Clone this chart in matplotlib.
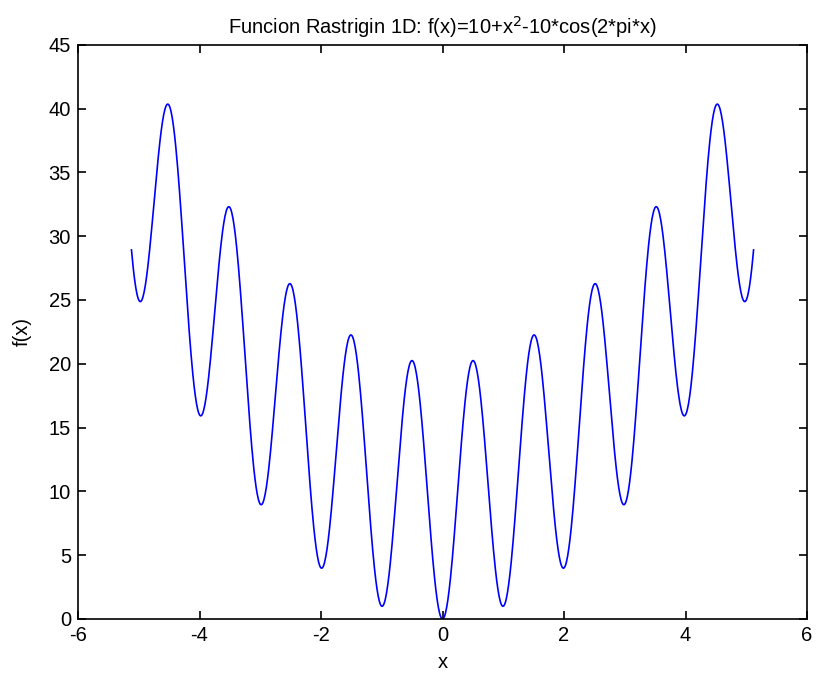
import matplotlib
matplotlib.use("Agg")
import matplotlib.pyplot as plt
import numpy as np

# Rastrigin 1D on its usual domain, sampled every 0.01
x_min, x_max, step = -5.12, 5.12, 0.01
A = 10
x = np.arange(x_min, x_max + step / 2, step)
y = A + x**2 - A * np.cos(2 * np.pi * x)

x_ticks = [-6, -4, -2, 0, 2, 4, 6]
y_ticks = [0, 5, 10, 15, 20, 25, 30, 35, 40, 45]

plt.rcParams['font.family'] = ['Liberation Sans', 'DejaVu Sans']
fs = 14.5

fig = plt.figure(figsize=(8.16, 6.79), dpi=100)
ax = fig.add_axes([0.0956, 0.0884, 0.8934, 0.8456])
ax.plot(x, y, color=(0, 0, 1), linewidth=1.2)

ax.set_xlim(-6, 6)
ax.set_ylim(0, 45)
ax.set_xticks(x_ticks)
ax.set_yticks(y_ticks)
ax.set_xticklabels([str(t) for t in x_ticks])
ax.tick_params(direction='in', top=True, right=True, length=6, width=1.2,
               labelsize=fs, pad=5)
for s in ax.spines.values():
    s.set_linewidth(1.2)

ax.set_title(r'Funcion Rastrigin 1D: f(x)=10+x$^{2}$-10*cos(2*pi*x)', fontsize=fs, pad=8)
ax.set_xlabel('x', fontsize=fs, labelpad=6)
ax.set_ylabel('f(x)', fontsize=fs, labelpad=12)

fig.savefig('out.png', dpi=100)
plt.close(fig)
